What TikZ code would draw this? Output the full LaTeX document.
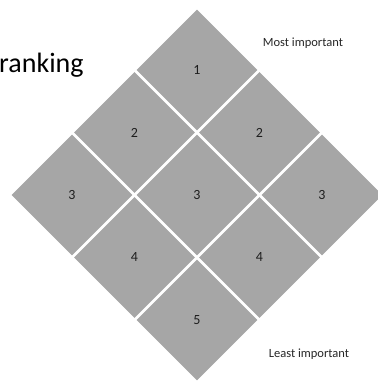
\documentclass[tikz,border=0pt]{standalone}
\usepackage{fontspec}
\setmainfont{Carlito}
\usetikzlibrary{shapes.geometric, positioning}
\definecolor{tilegray}{RGB}{166,166,166}
\definecolor{tiletext}{RGB}{30,30,30}

\tikzset{
  tile/.style={diamond, aspect=1, fill=tilegray, inner sep=0pt,
    minimum width=121pt, minimum height=121pt, text=tiletext, font=\fontsize{14}{16}\selectfont},
  note/.style={font=\fontsize{12.5}{14}\selectfont, text=black!85}
}

\begin{document}
\begin{tikzpicture}[x=1pt, y=-1pt]
  \useasboundingbox (0,0) rectangle (378,384);

  % Title (cut at the left edge)
  \node[anchor=base west, inner sep=0pt, font=\fontsize{28}{30}\selectfont, text=black] (title) at (-1,72) {ranking};

  % Top row
  \node[tile] (t1) at (197,70) {1};

  % Second row
  \node[tile] (t2a) at (134.5,132.5) {2};
  \node[tile] (t2b) at (259.5,132.5) {2};

  % Middle row
  \node[tile] (t3a) at (72,195) {3};
  \node[tile] (t3b) at (197,195) {3};
  \node[tile] (t3c) at (322,195) {3};

  % Fourth row
  \node[tile] (t4a) at (134.5,257.5) {4};
  \node[tile] (t4b) at (259.5,257.5) {4};

  % Bottom row
  \node[tile] (t5) at (197,320) {5};

  % Side notes
  \node[note] (most) at (303,43) {Most important};
  \node[note] (least) at (309,354) {Least important};
\end{tikzpicture}
\end{document}
